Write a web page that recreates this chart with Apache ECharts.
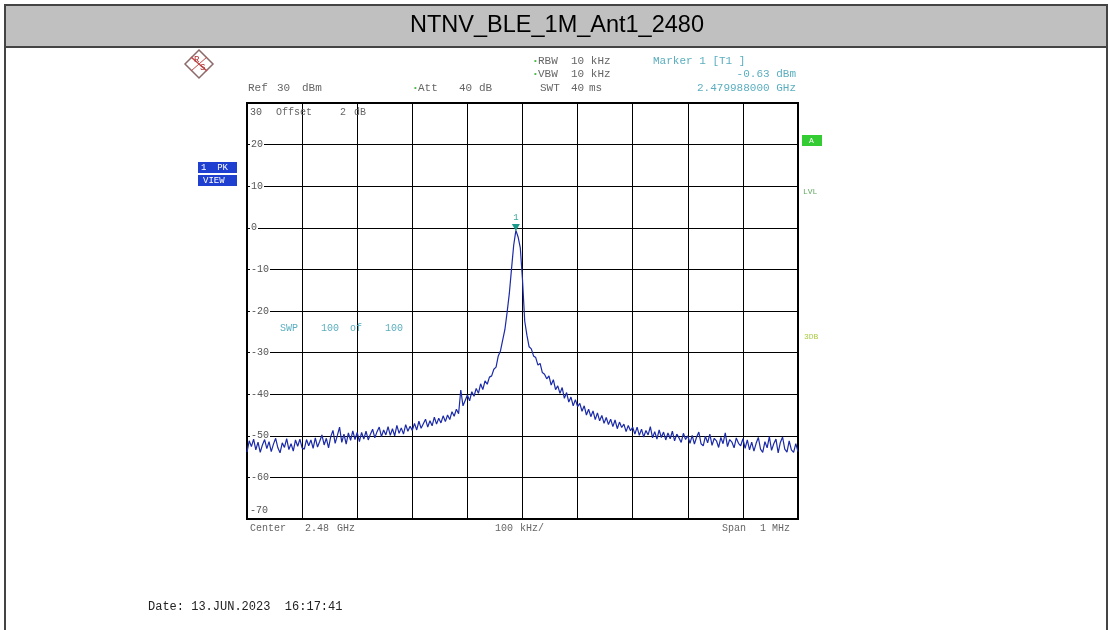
<!DOCTYPE html>
<html><head><meta charset="utf-8">
<script src="https://cdn.jsdelivr.net/npm/echarts@6/dist/echarts.min.js"></script>
<style>html,body{margin:0;padding:0;background:#fff}#c{width:1110px;height:630px}</style>
</head><body><div id="c"></div>
<script>
// ---- data ----
const chartTitle = 'NTNV_BLE_1M_Ant1_2480';
const sweepStartKHz = -500;   // offset from centre 2.48 GHz
const sweepStepKHz = 4;       // 251 sweep points over 1 MHz span
const levelsDbm = [
 -53.9,-51.2,-52.6,-50.8,-53.4,-51.5,-54.0,-52.2,-50.9,-53.1,-51.4,-53.8,-52.0,-50.6,-52.9,-54.1,-51.7,-52.8,-50.7,-53.3,-51.9,-53.7,-51.0,-52.5,-50.8,-52.9,
 -53.2,-50.9,-52.4,-51.0,-53.0,-50.5,-52.7,-51.3,-49.8,-52.2,-50.6,-52.9,-50.2,-48.7,-51.8,-49.9,-47.9,-51.6,-49.6,-52.0,-49.3,-51.1,-48.8,-50.9,-49.2,
 -51.4,-49.2,-50.8,-48.9,-51.0,-49.6,-48.4,-50.5,-49.0,-47.9,-50.2,-48.6,-49.8,-47.8,-49.9,-48.3,-50.0,-47.5,-49.4,-48.1,-49.6,-47.3,-48.9,-47.7,-48.7,
 -47.0,-48.6,-46.5,-48.2,-47.1,-46.0,-47.9,-46.4,-47.6,-45.5,-47.2,-45.8,-46.9,-45.2,-46.6,
 -45.0,-46.1,-44.2,-45.3,-43.6,-44.7,-39.0,-42.8,-41.5,-40.2,
 -41.6,-39.4,-40.5,-38.6,-39.8,-37.5,-38.9,-36.8,-37.6,-35.9,
 -35.6,-34.0,-33.5,-30.8,-29.6,
 -27.0,-24.5,-20.4,-15.9,-10.0,-4.2,-0.63,-2.2,-4.8,-12.5,-22.4,-25.8,-28.6,-29.1,-30.8,-31.2,-33.0,-32.6,-34.8,-35.2,
 -36.3,-35.6,-37.8,-36.5,-38.9,-38.0,-39.8,-38.4,-41.0,-39.6,-41.9,-40.7,-42.8,-41.3,-43.0,
 -42.2,-44.1,-42.8,-45.0,-43.6,-45.4,-44.0,-46.1,-44.5,-46.4,-45.1,-47.0,-45.6,-47.3,-46.0,-47.8,-46.2,-48.3,-46.7,-48.0,-47.2,-49.0,-47.5,-48.8,-47.9,
 -49.6,-47.9,-49.9,-48.4,-50.3,-48.7,-49.8,-47.8,-50.5,-49.0,-50.8,-48.6,-50.4,-49.1,-51.0,-49.3,-50.7,-48.9,-51.2,-49.6,-50.5,-51.6,-49.4,-50.9,-50.0,
 -51.8,-49.9,-52.0,-50.3,-49.1,-51.9,-52.4,-50.1,-51.7,-49.6,-52.3,-50.6,-51.2,-52.8,-50.4,-51.9,-49.3,-52.6,-50.9,-51.5,-52.9,-50.5,-51.8,-52.4,-50.7,
 -53.0,-51.0,-53.4,-51.5,-53.7,-51.8,-50.4,-53.2,-54.0,-51.4,-52.9,-50.2,-53.5,-51.9,-50.8,-54.1,-51.6,-50.3,-53.2,-53.9,-51.2,-53.4,-54.0,-51.9,-53.8
];
const markerFreqKHz = [-12];
const markerLevelDbm = [-0.63];
const yMin = -70, yMax = 30, yStep = 10;
const xMin = -500, xMax = 500, xStep = 100;

// ---- chart ----
const chart = echarts.init(document.getElementById('c'), null, {renderer:'canvas'});
const MONO = 'Liberation Mono';
const GRAY = '#666';
const TEAL = '#5aaebf';
function T(text, x, y, fill, size, align, extra){
  return Object.assign({type:'text', x:x, y:y, z:10, style:{text:text, fill:fill||GRAY,
    font:(size||11)+'px "'+MONO+'"', textAlign:align||'left', textVerticalAlign:'middle'}}, extra||{});
}
const pts = levelsDbm.map((v,i)=>[sweepStartKHz + i*sweepStepKHz, v]);

const graphics = [
  // page frame and title bar
  {type:'rect', shape:{x:5,y:5,width:1102,height:700}, style:{fill:'none', stroke:'#444', lineWidth:2}, z:1},
  {type:'rect', shape:{x:5,y:5,width:1102,height:42}, style:{fill:'#c0c0c0', stroke:'#444', lineWidth:2}, z:2},
  {type:'text', x:557, y:26, z:3, style:{text:chartTitle, fill:'#000', font:'23.5px "Liberation Sans"', textAlign:'center', textVerticalAlign:'middle'}},
  // R&S logo
  {type:'polygon', shape:{points:[[199,50],[213,64],[199,78],[185,64]]}, style:{fill:'none', stroke:'#8c6a6a', lineWidth:1.5}, z:3},
  {type:'line', shape:{x1:191,y1:57,x2:207,y2:71}, style:{stroke:'#c04848', lineWidth:1.5}, z:3},
  {type:'line', shape:{x1:207,y1:57,x2:191,y2:71}, style:{stroke:'#c04848', lineWidth:1}, z:3},
  T('R', 194, 60, '#b03030', 9),
  T('S', 200, 68, '#b03030', 9),
  // header
  T('\u2022', 533, 61, '#44bb44', 8), T('RBW', 538, 61), T('10 kHz', 571, 61),
  T('\u2022', 533, 74, '#44bb44', 8), T('VBW', 538, 74), T('10 kHz', 571, 74),
  T('Ref', 248, 88), T('30', 277, 88), T('dBm', 302, 88),
  T('\u2022', 413, 88, '#44bb44', 8), T('Att', 418, 88), T('40', 459, 88), T('dB', 479, 88),
  T('SWT', 540, 88), T('40', 571, 88), T('ms', 589, 88),
  T('Marker 1 [T1 ]', 653, 61, TEAL),
  T('-0.63 dBm', 796, 74, TEAL, 11, 'right'),
  T('2.479988000 GHz', 796, 88, TEAL, 11, 'right'),
  // inside plot
  T('Offset', 276, 112, GRAY, 10), T('2', 340, 112, GRAY, 10), T('dB', 354, 112, GRAY, 10),
  T('SWP', 280, 328, TEAL, 10), T('100', 321, 328, TEAL, 10), T('of', 350, 328, TEAL, 10), T('100', 385, 328, TEAL, 10),
  // bottom
  T('Center', 250, 528, GRAY, 10), T('2.48', 305, 528, GRAY, 10), T('GHz', 337, 528, GRAY, 10),
  T('100', 495, 528, GRAY, 10), T('kHz/', 520, 528, GRAY, 10),
  T('Span', 722, 528, GRAY, 10), T('1', 760, 528, GRAY, 10), T('MHz', 772, 528, GRAY, 10),
  // left status boxes
  {type:'rect', shape:{x:198,y:162,width:39,height:11}, style:{fill:'#1f3fd0'}, z:3},
  T('1  PK', 201, 167.5, '#fff', 9),
  {type:'rect', shape:{x:198,y:175,width:39,height:11}, style:{fill:'#1f3fd0'}, z:3},
  T('VIEW', 203, 180.5, '#fff', 9),
  // right status
  {type:'rect', shape:{x:802,y:135,width:20,height:11}, style:{fill:'#33cc33'}, z:3},
  T('A', 809, 140.5, '#fff', 8),
  T('LVL', 803, 192, '#66aa66', 8),
  T('3DB', 804, 337, '#aacc44', 8),
  // date
  T('Date: 13.JUN.2023  16:17:41', 148, 607, '#222', 12)
];

const labelBase = {fontFamily:MONO, fontSize:10, color:'#555'};
const option = {
  animation:false,
  backgroundColor:'#fff',
  grid:{left:247, right:312, top:103, bottom:111, show:true, borderColor:'#000', borderWidth:2},
  xAxis:{type:'value', min:xMin, max:xMax, interval:xStep,
    axisLine:{show:false}, axisTick:{show:false}, axisLabel:{show:false},
    splitLine:{show:true, lineStyle:{color:'#000', width:1}}},
  yAxis:{type:'value', min:yMin, max:yMax, interval:yStep,
    axisLine:{show:false}, axisTick:{show:false},
    splitLine:{show:true, lineStyle:{color:'#000', width:1}},
    axisLabel:{inside:true, margin:3,
      formatter:v => v===yMax ? '{t|'+v+'}' : (v===yMin ? '{b|'+v+'}' : '{m|'+v+'}'),
      rich:{
        m:Object.assign({backgroundColor:'#fff', padding:[0,1,0,1]}, labelBase),
        t:Object.assign({padding:[18,0,0,0]}, labelBase),
        b:Object.assign({padding:[0,0,18,0]}, labelBase)
      }}},
  series:[{type:'line', data:pts, showSymbol:false, symbol:'none', clip:true,
    lineStyle:{color:'#1a2aa8', width:1.2}, z:3,
    markPoint:{symbol:'triangle', symbolRotate:180, symbolSize:[8,7], symbolOffset:[0,-3],
      itemStyle:{color:'#1a9a8a'},
      label:{show:true, position:'top', formatter:'1', color:'#3aa8a0', fontSize:9, fontFamily:MONO, distance:2},
      data:[{coord:[markerFreqKHz[0], markerLevelDbm[0]]}]}}],
  graphic:graphics
};
chart.setOption(option);
</script></body></html>
